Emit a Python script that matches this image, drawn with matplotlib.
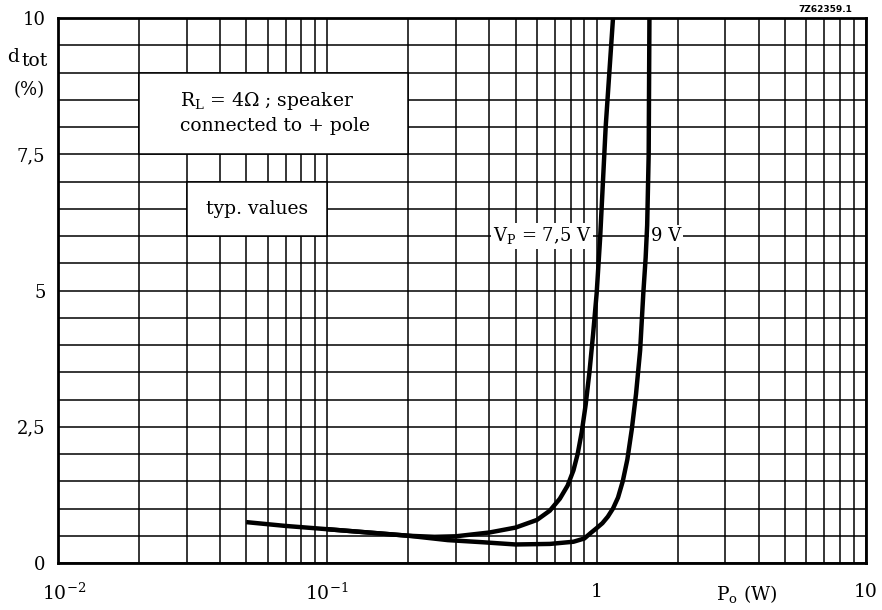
import numpy as np
import matplotlib
matplotlib.use("Agg")
import matplotlib.pyplot as plt
from matplotlib.patches import Rectangle
from matplotlib.ticker import LogLocator, NullFormatter, MultipleLocator

plt.rcParams['font.family'] = ['DejaVu Serif']
plt.rcParams['mathtext.fontset'] = 'dejavuserif'

# Total distortion vs output power
po_75v = [0.05, 0.07, 0.1, 0.15, 0.2, 0.25, 0.3, 0.4, 0.5, 0.6, 0.67, 0.73,
          0.78, 0.82, 0.85, 0.88, 0.91, 0.94, 0.97, 1.0, 1.03, 1.08, 1.15]
dtot_75v = [0.75, 0.68, 0.62, 0.55, 0.5, 0.48, 0.49, 0.56, 0.65, 0.79, 0.96, 1.18,
            1.42, 1.7, 2.0, 2.4, 2.9, 3.5, 4.2, 4.95, 5.96, 8.0, 10.0]

po_9v = [0.1, 0.15, 0.2, 0.28, 0.38, 0.5, 0.67, 0.82, 0.9, 0.95, 1.0, 1.05, 1.1,
         1.15, 1.2, 1.25, 1.3, 1.35, 1.4, 1.45, 1.49, 1.52, 1.54, 1.56, 1.57]
dtot_9v = [0.62, 0.55, 0.5, 0.42, 0.38, 0.34, 0.35, 0.39, 0.45, 0.55, 0.64, 0.73,
           0.85, 1.0, 1.2, 1.5, 1.9, 2.45, 3.1, 3.9, 4.95, 5.6, 6.2, 7.5, 10.0]

x_ticks = [0.01, 0.1, 1, 10]
x_labels = [r'$10^{-2}$', r'$10^{-1}$', '1', '10']
y_ticks = [0, 2.5, 5, 7.5, 10]
y_labels = ['0', '2,5', '5', '7,5', '10']

fig = plt.figure(figsize=(8.82, 6.10), dpi=100)
ax = fig.add_axes([58 / 882, 47 / 610, 808 / 882, 545 / 610])

ax.set_xscale('log')
ax.set_xlim(0.01, 10)
ax.set_ylim(0, 10)

# grid: every log subdivision, every 0.5 in y
ax.xaxis.set_major_locator(LogLocator(base=10, subs=np.arange(1, 10)))
ax.xaxis.set_major_formatter(NullFormatter())
ax.xaxis.set_minor_locator(LogLocator(base=10, subs=np.arange(1, 10)))
ax.xaxis.set_minor_formatter(NullFormatter())
ax.yaxis.set_minor_locator(MultipleLocator(0.5))
ax.set_yticks(y_ticks, y_labels)
ax.tick_params(which='both', length=0)
ax.tick_params(axis='y', labelsize=13, pad=9)
ax.set_axisbelow(True)
ax.grid(which='both', color='black', linewidth=1.1)

for sp in ax.spines.values():
    sp.set_linewidth(2.0)

# white text boxes that blank the grid
ax.add_patch(Rectangle((0.02, 7.5), 0.2 - 0.02, 1.5, facecolor='white',
                       edgecolor='black', linewidth=1.1, zorder=2))
ax.add_patch(Rectangle((0.03, 6.0), 0.1 - 0.03, 1.0, facecolor='white',
                       edgecolor='black', linewidth=1.1, zorder=2))

ax.text(0.064, 8.27, 'R$_\\mathrm{L}$ = 4Ω ; speaker\nconnected to + pole',
        ha='center', va='center', multialignment='left', fontsize=13.5,
        linespacing=1.35, zorder=3)
ax.text(0.0548, 6.5, 'typ. values', ha='center', va='center', fontsize=13.5, zorder=3)

ax.plot(po_75v, dtot_75v, color='black', linewidth=3.2, zorder=4,
        solid_capstyle='butt', solid_joinstyle='round')
ax.plot(po_9v, dtot_9v, color='black', linewidth=3.2, zorder=4,
        solid_capstyle='butt', solid_joinstyle='round')

ax.text(0.955, 6.0, 'V$_\\mathrm{P}$ = 7,5 V', ha='right', va='center', fontsize=13,
        zorder=3, bbox=dict(facecolor='white', edgecolor='none', pad=1.5))
ax.text(1.81, 6.0, '9 V', ha='center', va='center', fontsize=13, zorder=3,
        bbox=dict(facecolor='white', edgecolor='none', pad=1.5))

# x axis labels sit below the frame, exponent labels shifted left
offsets = [-16, -22, 0, 0]
for xv, lab, off in zip(x_ticks, x_labels, offsets):
    ax.annotate(lab, xy=(xv, 0), xycoords=('data', 'axes fraction'),
                xytext=(off, -20), textcoords='offset pixels',
                ha='left' if off else 'center', va='top', fontsize=13.5)
ax.annotate('P$_\\mathrm{o}$ (W)', xy=(3.6, 0), xycoords=('data', 'axes fraction'),
            xytext=(0, -20), textcoords='offset pixels', ha='center', va='top',
            fontsize=13.5)

# y axis title
fig.text(7 / 882, 1 - 62 / 610, 'd', ha='left', va='baseline', fontsize=13.5)
fig.text(21 / 882, 1 - 66 / 610, 'tot', ha='left', va='baseline', fontsize=13.5)
fig.text(29 / 882, 1 - 90 / 610, '(%)', ha='center', va='center', fontsize=13)

fig.text(825 / 882, 1 - 10 / 610, '7Z62359.1', ha='center', va='center',
         fontsize=6.5, family='DejaVu Sans', weight='bold')

fig.savefig('out.png', dpi=100)
